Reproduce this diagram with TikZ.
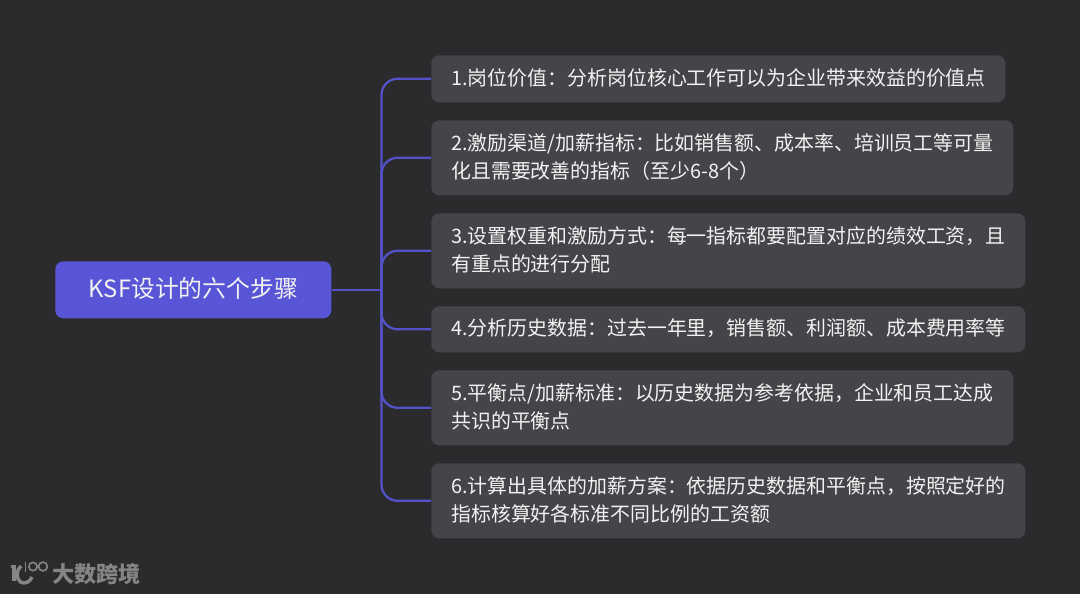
\documentclass[tikz,border=0pt]{standalone}
\usepackage{fontspec}
\setmainfont{Noto Sans CJK SC}
\definecolor{bgc}{HTML}{2B2B2D}
\definecolor{boxc}{HTML}{454449}
\definecolor{rootc}{HTML}{5856D6}
\definecolor{linec}{HTML}{5452C8}
\definecolor{txt}{HTML}{F2F2F2}
\definecolor{logoc}{HTML}{858585}
\tikzset{
  x=0.75pt,y=-0.75pt,
  stepbox/.style={anchor=north west,fill=boxc,rounded corners=6pt,inner sep=0pt},
  steptext/.style={anchor=west,text=txt,align=left,inner sep=0pt,font=\fontsize{14.94}{21}\selectfont},
  rootbox/.style={anchor=north west,fill=rootc,rounded corners=6pt,inner sep=0pt},
  roottext/.style={text=txt,inner sep=0pt,font=\fontsize{17.85}{24}\selectfont},
  link/.style={draw=linec,line width=1.7pt,rounded corners=12pt},
  logostroke/.style={draw=logoc,line width=2.6pt},
  logothin/.style={draw=logoc,line width=1.2pt},
  logotext/.style={text=logoc,inner sep=0pt,font=\fontsize{16.6}{20}\selectfont\bfseries},
}
\newcommand{\stepnode}[6]{% name, x0, y0, width, height, text
  \node[stepbox,minimum width=#4*0.75pt,minimum height=#5*0.75pt] (#1) at (#2,#3) {};
  \node[steptext] (#1t) at ([xshift=15pt,yshift=0.7pt]#1.west) {#6};
}
\begin{document}
\begin{tikzpicture}
\path[use as bounding box,fill=bgc] (0,0) rectangle (1080,594);
\node[rootbox,minimum width=276*0.75pt,minimum height=57*0.75pt] (root) at (55,261) {};
\node[roottext] (roott) at ([yshift=1pt]root.center) {KSF设计的六个步骤};
\stepnode{b1}{431}{55}{574}{47}{1.岗位价值：分析岗位核心工作可以为企业带来效益的价值点}
\stepnode{b2}{431}{120}{582}{75}{2.激励渠道/加薪指标：比如销售额、成本率、培训员工等可量\\化且需要改善的指标（至少6-8个）}
\stepnode{b3}{431}{213}{594}{75}{3.设置权重和激励方式：每一指标都要配置对应的绩效工资，且\\有重点的进行分配}
\stepnode{b4}{431}{306}{594}{46}{4.分析历史数据：过去一年里，销售额、利润额、成本费用率等}
\stepnode{b5}{431}{370}{582}{75}{5.平衡点/加薪标准：以历史数据为参考依据，企业和员工达成\\共识的平衡点}
\stepnode{b6}{431}{463}{594}{75}{6.计算出具体的加薪方案：依据历史数据和平衡点，按照定好的\\指标核算好各标准不同比例的工资额}
\path (root.east) ++(50,0) coordinate (trunk);
\draw[link] (root.east) -- (trunk);
\foreach \n in {b1,b2,b3,b4,b5,b6} \draw[link] (trunk) |- (\n.west);
\node[logotext,anchor=west] (logot) at (52,574.5) {大数跨境};
\draw[logostroke] (10.5,566.5) -- (14,566.5) -- (14,581);
\draw[logostroke] (21,566) .. controls (16,570) and (16,579) .. (20.5,582)
   .. controls (25,584.5) and (30,582) .. (32,577);
\draw[logothin] (25.5,562) -- (25.5,572);
\draw[logothin] (33,566.5) circle (4.2);
\draw[logothin] (43,566.5) circle (4.4);
\end{tikzpicture}
\end{document}
